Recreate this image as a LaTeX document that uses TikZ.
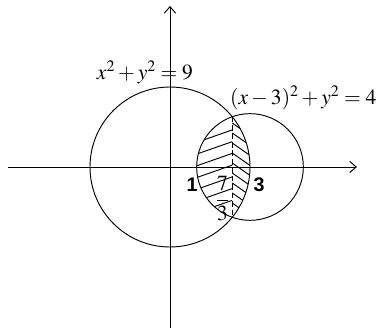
\documentclass[tikz,border=0pt]{standalone}
\usepackage{mathptmx}
\usepackage[no-math]{fontspec}
\usetikzlibrary{arrows.meta}
\newfontfamily\arialfont{Liberation Sans}
\tikzset{axisline/.style={line width=1pt,-{Straight Barb[length=7pt,width=12pt]}},
  curveline/.style={line width=1pt},
  hatchline/.style={line width=1pt},
  eqlabel/.style={font=\fontsize{23}{27}\selectfont},
  ptlabel/.style={font=\arialfont\bfseries\fontsize{21}{25}\selectfont}}

\begin{document}
\begin{tikzpicture}
  \useasboundingbox (-6.375,-6.15) rectangle (8.025,6.2625);
  \coordinate (xstart) at (-6.075,0);
  \coordinate (xend) at (7.01,0);
  \coordinate (ystart) at (0,-6.04);
  \coordinate (yend) at (0,6.04);
  \coordinate (ptop) at (7/3,{sqrt(32)/3});
  \coordinate (pbot) at (7/3,{-sqrt(32)/3});
  \draw[axisline] (xstart) -- (xend);
  \draw[axisline] (ystart) -- (yend);
  \draw[curveline] (0,0) circle (3);
  \draw[curveline] (3,0) circle (2);
  \begin{scope}
    \clip (3,0) circle (2);
    \clip (1,-2) rectangle (7/3,2);
    \foreach \k in {0,...,6}
      \draw[hatchline] (7/3,1.39-0.44*\k) -- ++(-1.6,-0.56);
  \end{scope}
  \begin{scope}
    \clip (0,0) circle (3);
    \clip (7/3,-2) rectangle (3,2);
    \foreach \k in {0,...,8}
      \draw[hatchline] (7/3,1.65-0.375*\k) -- ++(1,-0.7);
  \end{scope}
  \draw[curveline,dash pattern=on 6pt off 3pt] (ptop) -- (pbot);
  \node[eqlabel] (bigeq) at (-0.94,3.56) {$x^2+y^2=9$};
  \node[eqlabel] (smalleq) at (5.0,2.6) {$(x-3)^2+y^2=4$};
  \node[ptlabel] (one) at (0.825,-0.656) {1};
  \node[ptlabel] (three) at (3.34,-0.656) {3};
  \node[eqlabel] (frac) at (1.97,-1.18) {$\displaystyle\frac{7}{3}$};
\end{tikzpicture}
\end{document}
